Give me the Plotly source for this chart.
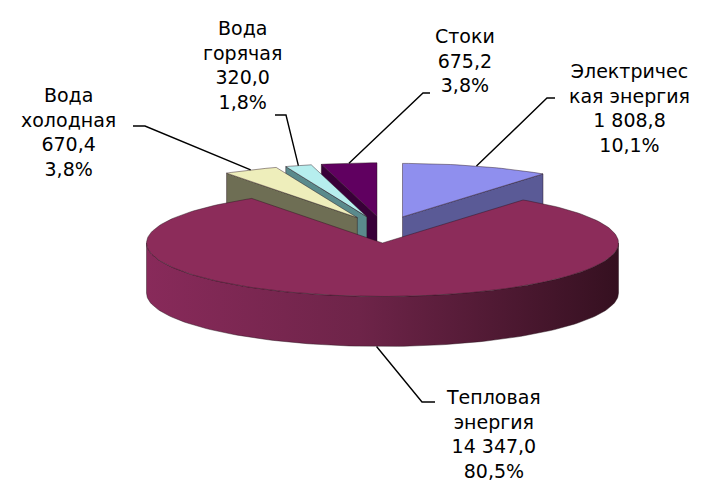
import numpy as np
import plotly.graph_objects as go

# ---------------- data ----------------
categories = ["Электрическая энергия", "Тепловая энергия", "Вода холодная", "Вода горячая", "Стоки"]
label_names = ["Электричес<br>кая энергия", "Тепловая<br>энергия", "Вода<br>холодная", "Вода<br>горячая", "Стоки"]
values = [1808.8, 14347.0, 670.4, 320.0, 675.2]

# ---------------- styles ----------------
top_colors = ["#8f8fee", "#8c2c5a", "#eeeebb", "#b6eeee", "#600060"]
side_colors = ["#5a5a96", "#7a2650", "#6e6e54", "#5a8a8c", "#380038"]
tepl_gradient = [[0, "#882a5a"], [0.45, "#6e2449"], [1, "#351020"]]
edge_color = "rgba(40,20,30,0.75)"

# label placement (text centre, elbow of leader, end of short tick)
label_text_xy = [(629, 108), (493, 434), (68, 132), (242, 65), (465, 60)]
label_elbow = [(547, 98), (422, 402), (145, 126), (286, 115), (423, 93)]
label_tick_end = [555, 435, 133, 275, 430]

# 3D pie geometry (pixel space)
CX, CY = 384.0, 229.6
A, B = 236.0, 53.5
DEPTH = 50.0
EXPLODE = 0.25
draw_order = [4, 0, 3, 2, 1]
PAGE_OFFSET = 8  # browser default body margin


def fmt_num(v):
    return f"{v:,.1f}".replace(",", " ").replace(".", ",")


def fmt_pct(p):
    return f"{p * 100:.1f}%".replace(".", ",")


total = sum(values)
fracs = [v / total for v in values]
bounds = np.concatenate([[0.0], np.cumsum(fracs)]) * 2 * np.pi


def pt(c, th, r=1.0, z=0.0):
    return c[0] + r * A * np.sin(th), c[1] - r * B * np.cos(th) + z


def arc(c, t1, t2, z=0.0):
    n = max(2, int(abs(np.degrees(t2 - t1)) / 1.5) + 2)
    ts = np.linspace(t1, t2, n)
    xs = c[0] + A * np.sin(ts)
    ys = c[1] - B * np.cos(ts) + z
    return list(xs), list(ys)


fig = go.Figure()


def poly(xs, ys, color=None, gradient=None):
    kw = dict(x=xs + [xs[0]], y=ys + [ys[0]], mode="lines", fill="toself",
              line=dict(color=edge_color, width=0.6),
              hoverinfo="skip", showlegend=False)
    if gradient is not None:
        kw["fillgradient"] = dict(type="horizontal", colorscale=gradient)
    else:
        kw["fillcolor"] = color
    fig.add_trace(go.Scatter(**kw))


centers = []
mids = []
for i in range(len(values)):
    t1, t2 = bounds[i], bounds[i + 1]
    m = 0.5 * (t1 + t2)
    mids.append(m)
    centers.append((CX + EXPLODE * A * np.sin(m), CY - EXPLODE * B * np.cos(m)))

for i in draw_order:
    t1, t2 = bounds[i], bounds[i + 1]
    c = centers[i]
    # radial faces
    if np.sin(t1) < -1e-6:
        x1, y1 = pt(c, t1)
        poly([c[0], x1, x1, c[0]], [c[1], y1, y1 + DEPTH, c[1] + DEPTH], side_colors[i])
    if np.sin(t2) > 1e-6:
        x2, y2 = pt(c, t2)
        poly([c[0], x2, x2, c[0]], [c[1], y2, y2 + DEPTH, c[1] + DEPTH], side_colors[i])
    # curved outer face (front half only)
    a1, a2 = max(t1, np.pi / 2), min(t2, 3 * np.pi / 2)
    if a2 > a1:
        xs_t, ys_t = arc(c, a1, a2)
        xs_b, ys_b = arc(c, a2, a1, DEPTH)
        poly(xs_t + xs_b, ys_t + ys_b, side_colors[i],
             gradient=tepl_gradient if i == 1 else None)
    # top face
    xs, ys = arc(c, t1, t2)
    poly([c[0]] + xs, [c[1]] + ys, top_colors[i])

# labels and leader lines
for i in range(len(values)):
    m = mids[i]
    z = DEPTH if np.cos(m) < 0 else 0.0
    ax, ay = pt(centers[i], m, 1.0, z)
    ex, ey = label_elbow[i]
    fig.add_trace(go.Scatter(x=[label_tick_end[i], ex, ax], y=[ey, ey, ay], mode="lines",
                             line=dict(color="black", width=1.4),
                             hoverinfo="skip", showlegend=False))
    tx, ty = label_text_xy[i]
    fig.add_annotation(x=tx, y=ty, xref="x", yref="y", showarrow=False,
                       text=f"{label_names[i]}<br>{fmt_num(values[i])}<br>{fmt_pct(fracs[i])}",
                       align="center", xanchor="center", yanchor="middle",
                       font=dict(family="DejaVu Sans", size=19, color="black"))

fig.update_layout(
    width=702, height=482,
    margin=dict(l=0, r=0, t=0, b=0),
    paper_bgcolor="white", plot_bgcolor="white",
    xaxis=dict(range=[PAGE_OFFSET, 702 + PAGE_OFFSET], visible=False, fixedrange=True),
    yaxis=dict(range=[482 + PAGE_OFFSET, PAGE_OFFSET], visible=False, fixedrange=True),
)

fig.write_html("out.html")
